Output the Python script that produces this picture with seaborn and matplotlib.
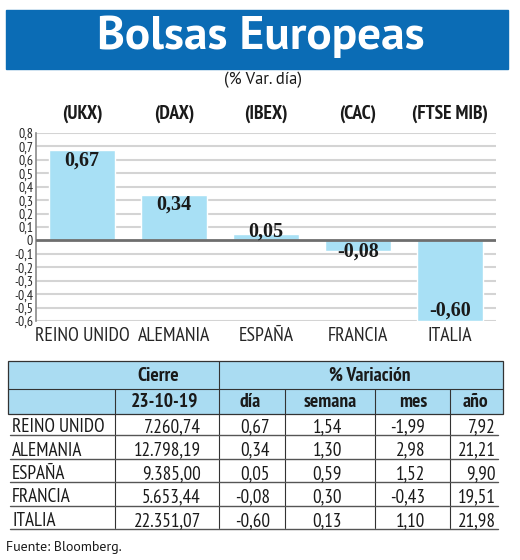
import numpy as np
import pandas as pd
import seaborn as sns
import matplotlib.pyplot as plt
from matplotlib import font_manager
from matplotlib.patches import Rectangle

# Data
paises = ['REINO UNIDO', 'ALEMANIA', 'ESPAÑA', 'FRANCIA', 'ITALIA']
indices = ['(UKX)', '(DAX)', '(IBEX)', '(CAC)', '(FTSE MIB)']
var_dia = [0.67, 0.34, 0.05, -0.08, -0.60]
cierre = ['7.260,74', '12.798,19', '9.385,00', '5.653,44', '22.351,07']
dia = ['0,67', '0,34', '0,05', '-0,08', '-0,60']
semana = ['1,54', '1,30', '0,59', '0,30', '0,13']
mes = ['-1,99', '2,98', '1,52', '-0,43', '1,10']
anio = ['7,92', '21,21', '9,90', '19,51', '21,98']
yticks = np.round(np.arange(-0.6, 0.81, 0.1), 1)

# Fonts
installed = {f.name for f in font_manager.fontManager.ttflist}
narrow = 'PT Sans Narrow' if 'PT Sans Narrow' in installed else 'DejaVu Sans'
sans = 'PT Sans' if 'PT Sans' in installed else 'DejaVu Sans'
serif = 'Liberation Serif'

sns.set_theme(style='white')
plt.rcParams['font.family'] = [narrow, 'DejaVu Sans']
plt.rcParams['text.color'] = '#1a1a1a'

BLUE = '#0b6cb5'
BAR = '#a8e0f5'
HEAD = '#aadcf2'

fig = plt.figure(figsize=(5.2, 5.6), dpi=100)
fig.patch.set_facecolor('white')

# Overlay in pixel coords
ov = fig.add_axes([0, 0, 1, 1])
ov.set_xlim(0, 520)
ov.set_ylim(560, 0)
ov.axis('off')

# Title band
ov.add_patch(Rectangle((6, 10), 502, 59, color=BLUE, zorder=1))
ov.text(261, 37, 'Bolsas Europeas', color='white', fontsize=34, fontweight='bold',
        family=sans, ha='center', va='center', zorder=2)
ov.text(263, 80, '(% Var. día)', fontsize=12, family=sans, ha='center', va='center')

# Bar chart
ax = fig.add_axes([36 / 520, 1 - 321 / 560, 460 / 520, 188 / 560])
df = pd.DataFrame({'pais': paises, 'valor': var_dia})
sns.barplot(data=df, x='pais', y='valor', color=BAR, width=0.72, saturation=1, ax=ax, zorder=2)
ax.set_xlim(-0.5, 4.5)
ax.set_ylim(-0.6, 0.8)
ax.set_yticks(yticks)
ax.set_yticklabels(['0' if abs(t) < 1e-9 else ('%.1f' % t).replace('.', ',') for t in yticks],
                   fontsize=10)
for t in yticks:
    if abs(t) > 1e-9:
        ax.axhline(t, color='#d4d4d4', lw=1.5, zorder=0)
ax.axhline(0, color='#6e6e6e', lw=2, zorder=3)
ax.tick_params(axis='y', length=0, pad=2)
ax.tick_params(axis='x', length=0, pad=4)
ax.set_xlabel('')
ax.set_ylabel('')
ax.set_xticks(range(len(paises)))
ax.set_xticklabels(paises, fontsize=14.2)
for s in ['top', 'right', 'bottom']:
    ax.spines[s].set_visible(False)
ax.spines['left'].set_color('#8a8a8a')
ax.spines['left'].set_linewidth(1.2)

for i, v in enumerate(var_dia):
    if abs(v) > 0.2:
        ly = v - np.sign(v) * 0.075
    elif v > 0:
        ly = v + 0.015
    else:
        ly = v - 0.005
    ax.text(i, ly, ('%.2f' % v).replace('.', ','), ha='center', va='center',
            fontsize=14.5, fontweight='bold', family=serif, zorder=4)
    ax.text(i, 1.1, indices[i], transform=ax.get_xaxis_transform(), ha='center',
            va='center', fontsize=14, fontweight='bold')

# Table
L, R = 8, 503
y0, y1, y2 = 361, 389, 414
ov.add_patch(Rectangle((L, y0), R - L, y2 - y0, facecolor=HEAD, edgecolor='#333333', lw=0.9))
ov.plot([L, R], [y1, y1], color='#333333', lw=0.8)
ov.plot([219, 219], [y0, 528], color='#333333', lw=0.8)
for xs in [115, 285, 375, 450]:
    ov.plot([xs, xs], [y1, 528], color='#333333', lw=0.8)

hdr = dict(fontsize=14, fontweight='bold', ha='center', va='center')
ov.text(158, 376, 'Cierre', **hdr)
ov.text(165, 402, '23-10-19', **hdr)
ov.text(370, 376, '% Variación', **hdr)
ov.text(250, 402, 'día', **hdr)
ov.text(330, 402, 'semana', **hdr)
ov.text(413, 402, 'mes', **hdr)
ov.text(475, 402, 'año', **hdr)

row_h = 23.5
for k in range(len(paises)):
    yc = 427 + k * row_h
    yl = 435 + k * row_h
    ov.plot([10, 498], [yl, yl], color='#555555', lw=1.0)
    ov.text(12, yc, paises[k], fontsize=13.8, ha='left', va='center')
    ov.text(201, yc, cierre[k], fontsize=13.8, ha='right', va='center')
    ov.text(270, yc, dia[k], fontsize=13.8, ha='right', va='center')
    ov.text(342, yc, semana[k], fontsize=13.8, ha='right', va='center')
    ov.text(425, yc, mes[k], fontsize=13.8, ha='right', va='center')
    ov.text(496, yc, anio[k], fontsize=13.8, ha='right', va='center')

ov.text(6, 548, 'Fuente: Bloomberg.', fontsize=10, family=sans, ha='left', va='center')

fig.savefig('out.png', dpi=100)
